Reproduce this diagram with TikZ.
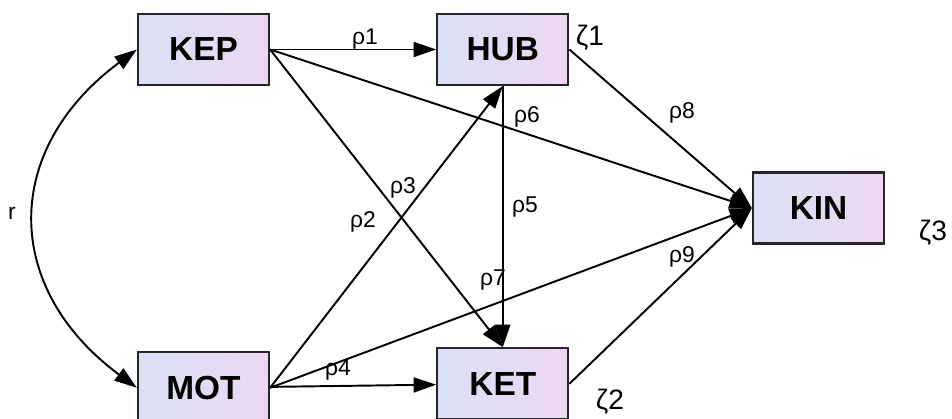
\documentclass[tikz,border=0pt]{standalone}
\usepackage{fontspec}
\setmainfont{Liberation Sans}
\usetikzlibrary{arrows.meta,positioning}
\definecolor{boxleft}{RGB}{218,224,246}
\definecolor{boxright}{RGB}{238,216,242}
\begin{document}
\begin{tikzpicture}[
  box/.style={draw=black!85,line width=1.3pt,left color=boxleft,right color=boxright,
    minimum width=2.62cm,minimum height=1.42cm,inner sep=0pt,
    font=\fontsize{19}{21}\selectfont\bfseries},
  coef/.style={inner sep=1pt,font=\fontsize{13}{15}\selectfont},
  err/.style={inner sep=1pt,font=\fontsize{16}{18}\selectfont},
  path/.style={->,line width=1.1pt},
  >={Triangle[length=0.45cm,width=0.3cm]}]
\useasboundingbox (0,0) rectangle (19.04,8.38);
\node[box] (kep) at (4.07,7.39) {KEP};
\node[box,right=3.32cm of kep] (hub) {HUB};
\node[box,below=5.3cm of kep] (mot) {MOT};
\node[box,below=5.22cm of hub] (ket) {KET};
\node[box] (kin) at (16.37,4.22) {KIN};
\draw[path] (kep) -- (hub);
\draw[path] (kep.east) -- (kin.west);
\draw[path] (kep.east) -- (ket.north);
\draw[path] (mot.east) -- (hub.south);
\draw[path] (mot.east) -- (kin.west);
\draw[path] (mot) -- (ket);
\draw[path] (hub.south) -- (ket.north);
\draw[path] (hub.east) -- (kin.west);
\draw[path] (ket.east) -- (kin.west);
\draw[<->,line width=1.1pt] (kep.west) .. controls +(-2.7,-2.0) and +(-2.7,2.0) .. (mot.west);
% coefficients
\node[coef] (p1) at (7.3,7.6) {ρ1};
\node[coef] (p2) at (7.26,3.94) {ρ2};
\node[coef] (p3) at (8.06,4.62) {ρ3};
\node[coef] (p4) at (6.76,0.98) {ρ4};
\node[coef] (p5) at (10.5,4.24) {ρ5};
\node[coef] (p6) at (10.54,6.04) {ρ6};
\node[coef] (p7) at (9.86,2.78) {ρ7};
\node[coef] (p8) at (13.64,6.12) {ρ8};
\node[coef] (p9) at (13.64,3.24) {ρ9};
\node[coef] (r) at (0.24,4.12) {r};
% errors
\node[err] (z1) at (11.8,7.62) {ζ1};
\node[err] (z2) at (12.2,0.34) {ζ2};
\node[err] (z3) at (18.66,3.72) {ζ3};
\end{tikzpicture}
\end{document}
